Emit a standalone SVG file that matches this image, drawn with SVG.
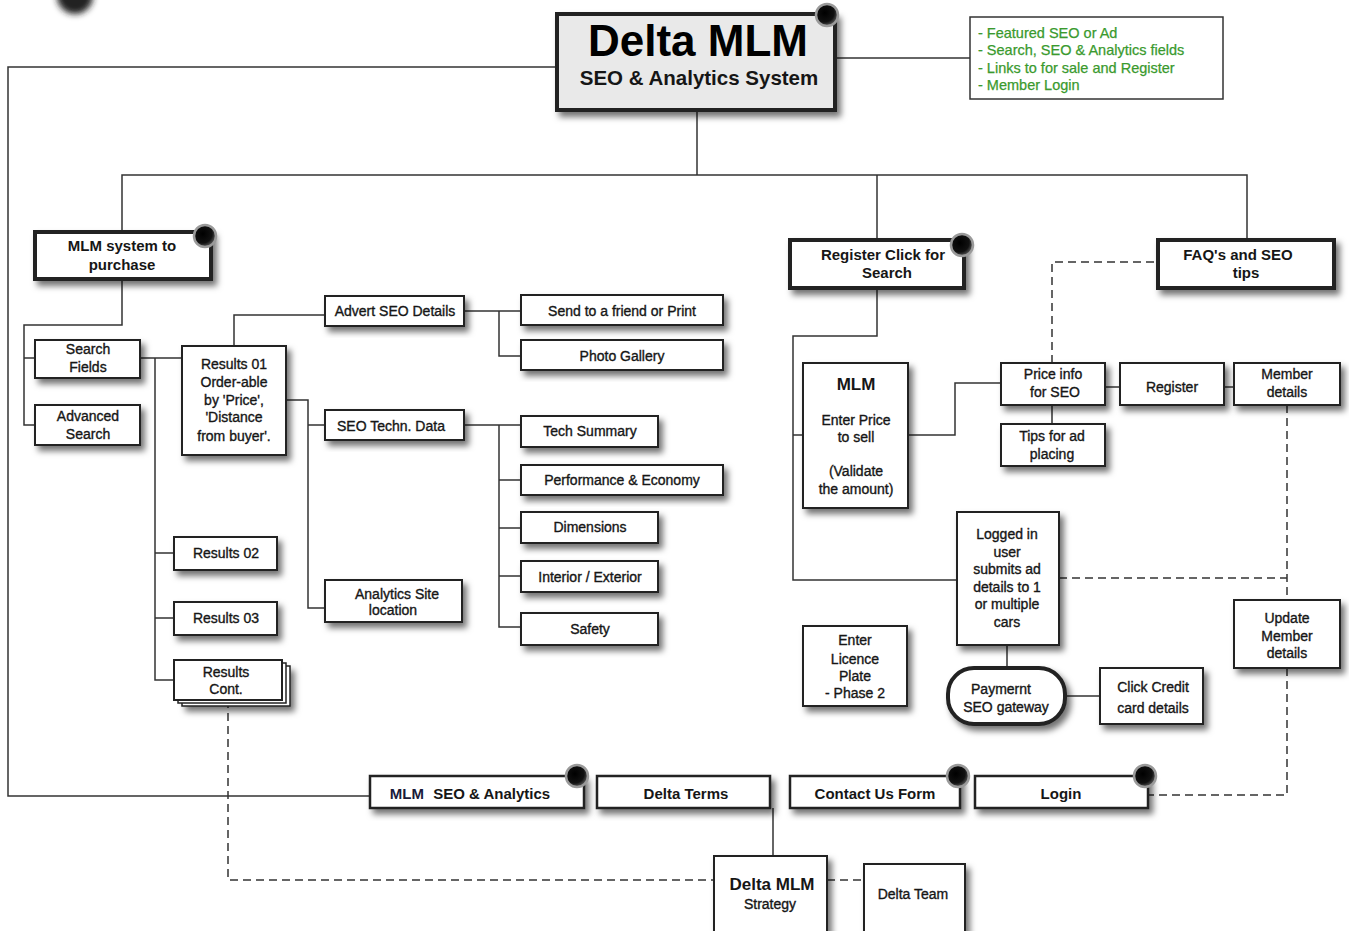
<svg xmlns="http://www.w3.org/2000/svg" width="1349" height="931" viewBox="0 0 1349 931">
<defs>
<filter id="sh" x="-20%" y="-20%" width="150%" height="160%">
<feDropShadow dx="4" dy="5" stdDeviation="3" flood-color="#000" flood-opacity="0.55"/>
</filter>
<filter id="blur" x="-50%" y="-50%" width="200%" height="200%"><feGaussianBlur stdDeviation="3"/></filter>
<radialGradient id="pin" cx="40%" cy="40%" r="60%">
<stop offset="0" stop-color="#000"/><stop offset="0.7" stop-color="#111"/><stop offset="1" stop-color="#555"/>
</radialGradient>
</defs>
<style>
.box{fill:#fff;stroke:#222;stroke-width:2;filter:url(#sh)}
.thick{stroke-width:4}
.mid{stroke-width:2.5}
.ln{fill:none;stroke:#333;stroke-width:1.5}
.dash{stroke-dasharray:8 5}
.t{font-family:'Liberation Sans',Arial,sans-serif;font-size:14px;fill:#161616;stroke:#161616;stroke-width:0.35;text-anchor:middle}
.b{font-weight:bold;stroke-width:0}
.h{font-size:15px}
.g{font-family:'Liberation Sans',Arial,sans-serif;font-size:14.5px;fill:#3a9a2e;stroke:#3a9a2e;stroke-width:0.25}
.pin{fill:url(#pin);stroke:#9a9a9a;stroke-width:2.5}
</style>
<rect width="1349" height="931" fill="#fff"/>
<circle cx="75" cy="-4" r="18" fill="#222" filter="url(#blur)"/>

<g id="connectors">
<path class="ln" d="M557,67 H8 V796 H370"/>
<path class="ln" d="M835,58 H970"/>
<path class="ln" d="M697,110 V175"/>
<path class="ln" d="M122,232 V175 H1247 V240"/>
<path class="ln" d="M877,175 V240"/>
<path class="ln" d="M122,279 V325 H24 V425 H35 M24,358 H35"/>
<path class="ln" d="M140,358 H182 M155,358 V680 H174 M155,553 H174 M155,618 H174"/>
<path class="ln" d="M234,346 V315 H325"/>
<path class="ln" d="M286,400 H308 V608 H325 M308,425 H325"/>
<path class="ln" d="M464,311 H521 M499,311 V356 H521"/>
<path class="ln" d="M464,425 H521 M499,425 V627 H521 M499,480 H521 M499,528 H521 M499,576 H521"/>
<path class="ln" d="M877,288 V336 H793 V580 H957 M793,435 H803"/>
<path class="ln" d="M908,435 H955 V383 H1001"/>
<path class="ln" d="M1105,387 H1120 M1224,387 H1234 M1052,405 V424"/>
<path class="ln" d="M1007,645 V668 M1065,696 H1100"/>
<path class="ln" d="M773,808 V856"/>
<path class="ln dash" d="M1052,363 V262 H1158"/>
<path class="ln dash" d="M1287,405 V600 M1059,578 H1287"/>
<path class="ln dash" d="M1287,668 V795 H1148"/>
<path class="ln dash" d="M228,700 V880 H714"/>
<path class="ln dash" d="M827,880 H864"/>
</g>

<g id="main">
<rect class="box thick" x="557" y="14" width="278" height="96" style="fill:#e9e9e9"/>
<text class="t b" x="698" y="56" style="font-size:44px;fill:#000">Delta MLM</text>
<text class="t b" x="699" y="85" style="font-size:20.5px">SEO &amp; Analytics System</text>
<circle class="pin" cx="827" cy="15" r="11"/>
</g>

<g id="features">
<rect x="970" y="17" width="253" height="82" fill="#fff" stroke="#333" stroke-width="1.5"/>
<text class="g" x="978" y="38">- Featured SEO or Ad</text>
<text class="g" x="978" y="55">- Search, SEO &amp; Analytics fields</text>
<text class="g" x="978" y="73">- Links to for sale and Register</text>
<text class="g" x="978" y="90">- Member Login</text>
</g>

<g id="mlm-purchase">
<rect class="box thick" x="35" y="232" width="176" height="47"/>
<text class="t b h" x="122" y="251">MLM system to</text>
<text class="t b h" x="122" y="270">purchase</text>
<circle class="pin" cx="205" cy="236" r="11"/>
</g>

<g id="search-fields">
<rect class="box" x="35" y="340" width="105" height="38"/>
<text class="t" x="88" y="354">Search</text>
<text class="t" x="88" y="372">Fields</text>
</g>
<g id="advanced-search">
<rect class="box" x="35" y="405" width="105" height="40"/>
<text class="t" x="88" y="421">Advanced</text>
<text class="t" x="88" y="439">Search</text>
</g>
<g id="results01">
<rect class="box" x="182" y="346" width="104" height="109"/>
<text class="t" x="234" y="369">Results 01</text>
<text class="t" x="234" y="387">Order-able</text>
<text class="t" x="234" y="405">by 'Price',</text>
<text class="t" x="234" y="422">'Distance</text>
<text class="t" x="234" y="441">from buyer'.</text>
</g>
<g id="results02">
<rect class="box" x="174" y="537" width="103" height="33"/>
<text class="t" x="226" y="558">Results 02</text>
</g>
<g id="results03">
<rect class="box" x="174" y="602" width="103" height="33"/>
<text class="t" x="226" y="623">Results 03</text>
</g>
<g id="results-cont">
<rect class="box" x="182" y="666" width="108" height="40" style="stroke-width:1.5"/>
<rect x="178" y="663" width="108" height="40" fill="#fff" stroke="#222" stroke-width="1.5"/>
<rect x="174" y="660" width="108" height="40" fill="#fff" stroke="#222" stroke-width="2"/>
<text class="t" x="226" y="677">Results</text>
<text class="t" x="226" y="694">Cont.</text>
</g>
<g id="advert">
<rect class="box" x="325" y="296" width="139" height="30"/>
<text class="t" x="395" y="316">Advert SEO Details</text>
</g>
<g id="send">
<rect class="box" x="521" y="295" width="202" height="30"/>
<text class="t" x="622" y="316">Send to a friend or Print</text>
</g>
<g id="photo">
<rect class="box" x="521" y="340" width="202" height="30"/>
<text class="t" x="622" y="361">Photo Gallery</text>
</g>
<g id="tech-data">
<rect class="box" x="325" y="410" width="139" height="30"/>
<text class="t" x="391" y="431">SEO Techn. Data</text>
</g>
<g id="analytics-site">
<rect class="box" x="325" y="580" width="137" height="42"/>
<text class="t" x="397" y="599">Analytics Site</text>
<text class="t" x="393" y="615">location</text>
</g>
<g id="tech-summary">
<rect class="box" x="521" y="416" width="137" height="31"/>
<text class="t" x="590" y="436">Tech Summary</text>
</g>
<g id="performance">
<rect class="box" x="521" y="465" width="202" height="30"/>
<text class="t" x="622" y="485">Performance &amp; Economy</text>
</g>
<g id="dimensions">
<rect class="box" x="521" y="512" width="137" height="31"/>
<text class="t" x="590" y="532">Dimensions</text>
</g>
<g id="interior">
<rect class="box" x="521" y="561" width="137" height="31"/>
<text class="t" x="590" y="582">Interior / Exterior</text>
</g>
<g id="safety">
<rect class="box" x="521" y="613" width="137" height="32"/>
<text class="t" x="590" y="634">Safety</text>
</g>

<g id="register-click">
<rect class="box thick" x="790" y="240" width="174" height="48"/>
<text class="t b h" x="883" y="260">Register Click for</text>
<text class="t b h" x="887" y="278">Search</text>
<circle class="pin" cx="962" cy="245" r="11"/>
</g>
<g id="faq">
<rect class="box thick" x="1158" y="240" width="176" height="48"/>
<text class="t b h" x="1238" y="260">FAQ's and SEO</text>
<text class="t b h" x="1246" y="278">tips</text>
</g>
<g id="mlm-price">
<rect class="box" x="803" y="363" width="105" height="145"/>
<text class="t b" x="856" y="390" style="font-size:17px">MLM</text>
<text class="t" x="856" y="425">Enter Price</text>
<text class="t" x="856" y="442">to sell</text>
<text class="t" x="856" y="476">(Validate</text>
<text class="t" x="856" y="494">the amount)</text>
</g>
<g id="price-info">
<rect class="box" x="1001" y="363" width="104" height="42"/>
<text class="t" x="1053" y="379">Price info</text>
<text class="t" x="1055" y="397">for SEO</text>
</g>
<g id="register">
<rect class="box" x="1120" y="363" width="104" height="42"/>
<text class="t" x="1172" y="392">Register</text>
</g>
<g id="member-details">
<rect class="box" x="1234" y="363" width="106" height="42"/>
<text class="t" x="1287" y="379">Member</text>
<text class="t" x="1287" y="397">details</text>
</g>
<g id="tips">
<rect class="box" x="1001" y="424" width="104" height="42"/>
<text class="t" x="1052" y="441">Tips for ad</text>
<text class="t" x="1052" y="459">placing</text>
</g>
<g id="logged-in">
<rect class="box" x="957" y="512" width="102" height="133"/>
<text class="t" x="1007" y="539">Logged in</text>
<text class="t" x="1007" y="557">user</text>
<text class="t" x="1007" y="574">submits ad</text>
<text class="t" x="1007" y="592">details to 1</text>
<text class="t" x="1007" y="609">or multiple</text>
<text class="t" x="1007" y="627">cars</text>
</g>
<g id="payment">
<rect class="box thick" x="948" y="668" width="117" height="56" rx="26"/>
<text class="t" x="1001" y="694">Paymernt</text>
<text class="t" x="1006" y="712">SEO gateway</text>
</g>
<g id="credit">
<rect class="box" x="1100" y="668" width="103" height="56"/>
<text class="t" x="1153" y="692">Click Credit</text>
<text class="t" x="1153" y="713">card details</text>
</g>
<g id="licence">
<rect class="box" x="803" y="626" width="104" height="80"/>
<text class="t" x="855" y="645">Enter</text>
<text class="t" x="855" y="664">Licence</text>
<text class="t" x="855" y="681">Plate</text>
<text class="t" x="855" y="698">- Phase 2</text>
</g>
<g id="update-member">
<rect class="box" x="1234" y="600" width="106" height="68"/>
<text class="t" x="1287" y="623">Update</text>
<text class="t" x="1287" y="641">Member</text>
<text class="t" x="1287" y="658">details</text>
</g>

<g id="mlm-seo-analytics">
<rect class="box mid" x="370" y="776" width="214" height="32"/>
<text class="t b h" x="470" y="799"><tspan fill="#1a1a3a">MLM</tspan><tspan dx="5"> SEO &amp; Analytics</tspan></text>
<circle class="pin" cx="577" cy="776" r="11"/>
</g>
<g id="delta-terms">
<rect class="box mid" x="597" y="776" width="173" height="32"/>
<text class="t b h" x="686" y="799">Delta Terms</text>
</g>
<g id="contact">
<rect class="box mid" x="790" y="776" width="170" height="32"/>
<text class="t b h" x="875" y="799">Contact Us Form</text>
<circle class="pin" cx="958" cy="776" r="11"/>
</g>
<g id="login">
<rect class="box mid" x="975" y="776" width="173" height="32"/>
<text class="t b h" x="1061" y="799">Login</text>
<circle class="pin" cx="1145" cy="776" r="11"/>
</g>
<g id="strategy">
<rect class="box" x="714" y="856" width="113" height="80"/>
<text class="t b" x="772" y="890" style="font-size:17px">Delta MLM</text>
<text class="t" x="770" y="909">Strategy</text>
</g>
<g id="team">
<rect class="box" x="864" y="864" width="101" height="72"/>
<text class="t" x="913" y="899">Delta Team</text>
</g>
</svg>
